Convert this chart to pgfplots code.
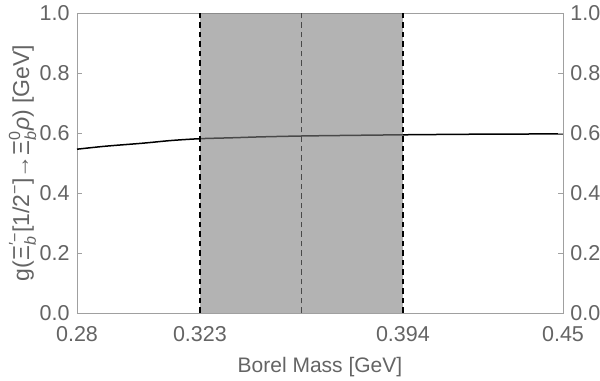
\documentclass[border=0pt]{standalone}
\usepackage{pgfplots}
\pgfplotsset{compat=1.18}
\usepackage{amsmath}
\usepackage{fontspec}
\setmainfont{Liberation Sans}
\definecolor{txtgray}{RGB}{100,100,100}
\definecolor{axgray}{RGB}{160,160,160}
\definecolor{bandgray}{RGB}{125,125,125}
\begin{document}
\begin{tikzpicture}
\pgfplotsset{
  common/.style={
    scale only axis, width=486bp, height=300bp,
    xmin=0.28, xmax=0.45, ymin=0, ymax=1,
    axis line style={axgray, line width=0.8bp},
    tick style={axgray, line width=0.8bp},
    tick align=inside, major tick length=5bp,
    ticklabel style={font=\fontsize{21.5bp}{25bp}\selectfont, text=txtgray, inner sep=0.5bp},
    /pgf/number format/assume math mode=true,
    label style={font=\fontsize{21bp}{25bp}\selectfont, text=txtgray},
    ytick={0,0.2,0.4,0.6,0.8,1.0},
    yticklabel style={/pgf/number format/fixed, /pgf/number format/fixed zerofill, /pgf/number format/precision=1},
    xtick={0.28,0.323,0.394,0.45},
    xticklabels={0.28,0.323,0.394,0.45},
    xticklabel style={yshift=-12.7bp},
  }
}
\begin{axis}[common,
  xtick pos=bottom, ytick pos=left,
  yticklabel style={xshift=-6.7bp},
  xlabel={Borel Mass [GeV]},
  ylabel={g(Ξ$^{\text{′−}}_{\textit{b}}$[1/2$^{\text{−}}$]→Ξ$^{\text{0}}_{\textit{b}}$\textit{ρ}) [GeV]},
  xlabel style={yshift=-11.7bp},
  ylabel style={yshift=-0.5bp, font=\fontsize{23bp}{27bp}\selectfont},
  clip=false,
]
\addplot[black, line width=1.5bp, smooth] coordinates {
(0.28,0.546) (0.29,0.556) (0.303,0.566) (0.313,0.575) (0.323,0.581) (0.334,0.584) (0.344,0.587) (0.3585,0.590) (0.375,0.592) (0.394,0.594) (0.42,0.596) (0.45,0.597)};
\addplot[black, line width=1.3bp, dash pattern=on 5.5bp off 4bp] coordinates {(0.3585,0) (0.3585,1)};
\addplot[draw=none, fill=bandgray, fill opacity=0.59] coordinates {(0.323,0) (0.323,1) (0.394,1) (0.394,0)} -- cycle;
\addplot[black, line width=1.3bp, dash pattern=on 5.5bp off 4bp] coordinates {(0.323,0) (0.323,1)};
\addplot[black, line width=1.3bp, dash pattern=on 5.5bp off 4bp] coordinates {(0.394,0) (0.394,1)};
\end{axis}
\begin{axis}[common,
  axis x line=none, axis y line*=right,
  ytick pos=right, yticklabel pos=right,
  yticklabel style={xshift=6.7bp},
]
\end{axis}
\pgfresetboundingbox
\path ([shift={(-77bp,-68bp)}]current axis.south west) rectangle ([shift={(37bp,13bp)}]current axis.north east);
\end{tikzpicture}
\end{document}
